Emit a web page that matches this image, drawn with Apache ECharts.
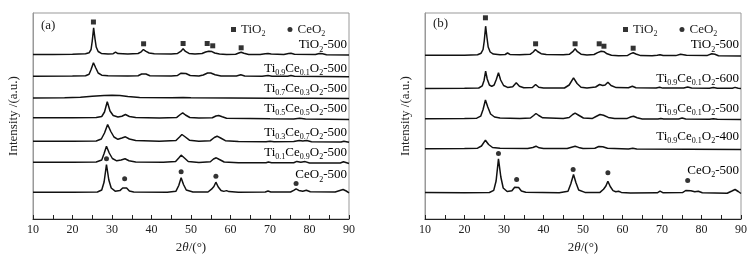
<!DOCTYPE html>
<html><head><meta charset="utf-8">
<script src="https://cdn.jsdelivr.net/npm/echarts@6/dist/echarts.min.js"></script>
<style>html,body{margin:0;padding:0;background:#fff}#c{width:752px;height:259px}</style>
</head><body><div id="c"></div>
<script>
// ---- data (2θ in degrees, intensity in arbitrary offset units) ----
const xTicks = [10, 20, 30, 40, 50, 60, 70, 80, 90];
const namesA = ['TiO2-500', 'Ti0.9Ce0.1O2-500', 'Ti0.7Ce0.3O2-500', 'Ti0.5Ce0.5O2-500', 'Ti0.3Ce0.7O2-500', 'Ti0.1Ce0.9O2-500', 'CeO2-500'];
const namesB = ['TiO2-500', 'Ti0.9Ce0.1O2-600', 'Ti0.9Ce0.1O2-500', 'Ti0.9Ce0.1O2-400', 'CeO2-500'];

const a_TiO2_500 = [[10,164.5],[15,164.5],[20,164.8],[23.3,165.2],[24.2,166.2],[24.7,169.5],[25.0,178],[25.35,191.2],[25.7,180],[26.0,172],[26.5,167.5],[27.3,165.6],[29,165],[30.3,165.3],[30.9,166.8],[31.5,165.4],[34,165],[36.6,165.5],[37.4,167.2],[37.95,169.5],[38.5,167.8],[39.4,166],[40.7,165.2],[45,165],[46.6,165.6],[47.4,167.6],[48.0,170.2],[48.6,167.6],[49.5,165.6],[51,165],[52.8,165.5],[53.7,167],[54.5,167.8],[55.3,167.4],[56.0,166],[57.2,165],[59,164.6],[61.3,164.8],[62.1,166],[62.7,166.8],[63.4,165.8],[64.6,164.6],[67.5,164.6],[68.8,165.3],[69.5,165.6],[70.3,164.9],[73.5,164.6],[74.7,165.5],[75.3,165.8],[76.2,164.8],[81.5,164.5],[82.5,165.5],[83.3,165.3],[84.3,164.3],[90,164]];
const a_Ti09 = [[10,142.8],[20,143],[23.3,143.3],[24.2,144.8],[24.7,149.5],[25.3,156.2],[25.9,151],[26.5,146],[27.4,143.8],[29,143.2],[34,143],[36.6,143.3],[37.5,145],[38,146.2],[38.6,145],[39.6,143.3],[45,143],[46.6,143.6],[47.5,145.8],[48,146.6],[48.7,145.5],[49.8,143.5],[52,143],[53.1,144],[54.2,146],[55,146],[56.1,144.2],[57.6,143],[61.5,143],[62.6,144.2],[63.6,143],[68,142.8],[69.5,143.5],[70.5,142.8],[74.5,142.8],[75.3,143.6],[76.2,142.8],[90,142.3]];
const a_Ti07 = [[10,121],[18,121.2],[22,121.8],[25,122.8],[28,123.6],[30,123.8],[32,123.4],[34,122.4],[37,121.5],[45,121.2],[48,121.5],[50,121.2],[60,121],[70,120.8],[80,120.8],[90,120.6]];
const a_Ti05 = [[10,101.2],[20,101.2],[26,101.4],[27.4,102.5],[28.1,107],[28.8,117.2],[29.5,108],[30.3,103.5],[31.5,102],[32.5,102.8],[33.4,104.5],[34.4,102.5],[36,101.5],[42,101],[46.4,101.6],[47.3,104.5],[47.9,106.2],[48.6,104],[49.7,101.5],[52,101],[55.4,101.3],[56.3,103],[57,103.5],[57.9,102.2],[59,100.8],[65,100.5],[70,100.2],[76,100],[77.5,100.8],[79,100],[90,99.5]];
const a_Ti03 = [[10,77.8],[20,77.8],[26,78],[27.3,80],[28.1,86],[28.9,94.5],[29.7,87.5],[30.5,82],[31.5,79.7],[32.5,81],[33.4,82.2],[34.4,80],[36,78.5],[42,77.8],[46.2,78.5],[47.1,82],[47.7,84.5],[48.4,82.5],[49.6,78.8],[52,77.8],[54.9,78.3],[55.9,81.5],[56.6,82.8],[57.5,81],[58.7,78.3],[62,77.5],[69,77.3],[70,77.8],[71,77.2],[76,77.4],[77.4,78.6],[78.3,78],[79.3,78.5],[80.5,77.2],[88,77],[88.7,77.8],[90,76.8]];
const a_Ti01 = [[10,56.8],[20,56.8],[26,57],[27.4,59],[28.0,65.5],[28.6,72.8],[29.3,66],[30.1,60.5],[31.2,58.2],[32.3,59],[33.3,60.2],[34.3,58.3],[36,57],[43,56.8],[46.1,57.5],[46.9,61],[47.5,63.8],[48.2,61.5],[49.3,57.5],[52,56.6],[54.9,57.3],[55.7,60],[56.4,61.2],[57.2,59.5],[58.4,57],[62,56.3],[69,56.2],[69.6,57],[70.4,56.2],[76,56.2],[76.8,57.6],[77.8,56.8],[78.9,57.4],[80,56],[87.8,56],[88.6,57.2],[90,55.5]];
const a_CeO2_500 = [[10,26.8],[20,26.8],[26.3,27],[27.4,29],[28.0,37],[28.6,54.5],[29.2,39],[29.8,31],[30.8,27.8],[32.0,28.4],[32.7,31],[33.2,32.8],[33.7,31],[34.4,28],[35.5,27],[44,26.8],[46.2,27.8],[46.9,33.5],[47.5,41.2],[48.1,34.5],[48.8,29],[50.5,27],[54.3,27],[55.2,29.8],[55.8,32.5],[56.3,36.8],[56.9,32],[57.6,28.5],[58.3,27.6],[59,28.4],[59.6,27.4],[62,26.8],[68.8,27],[69.5,28],[70.2,27],[75.2,27],[76.0,28.6],[76.6,30.2],[77.3,28.6],[78.3,27.8],[79.2,28.8],[80.2,27.2],[86.5,27],[87.7,28.5],[88.5,29.5],[89.3,28],[90,26.2]];

const b_TiO2_500 = [[10,163.8],[20,163.8],[23.3,164.3],[24.2,165.8],[24.7,169.5],[25.0,178],[25.35,192.8],[25.7,181],[26.0,172],[26.5,167],[27.3,164.9],[29,164.3],[30.3,164.5],[30.9,166],[31.5,164.6],[34,164.2],[36.6,164.7],[37.4,167],[37.95,169.5],[38.5,167.5],[39.4,165.3],[40.7,164.4],[45,164.2],[46.6,164.8],[47.4,167.3],[48,170.2],[48.6,167.3],[49.5,164.8],[51,164],[52.8,164.5],[53.7,166.4],[54.6,167.8],[55.4,167.2],[56.1,165.2],[57.2,163.8],[59,163.3],[61.3,163.6],[62.1,165.4],[62.7,166.2],[63.4,165],[64.6,163.4],[67.5,163.2],[68.8,163.8],[69.5,164.2],[70.3,163.4],[73.5,163.4],[74.7,164.8],[75.2,165.3],[76.2,163.8],[81.5,163.6],[82.6,165.2],[83.4,164.8],[84.3,163.3],[90,163]];
const b_Ti09_600 = [[10,130.5],[20,130.7],[23.6,131],[24.5,133.2],[24.95,138.5],[25.35,147.8],[25.75,140],[26.3,134],[26.9,132.6],[27.5,134],[28.05,139.5],[28.6,146.2],[29.15,139],[29.9,133.5],[30.9,131.6],[32.2,132.2],[33.1,136.2],[33.9,132.8],[35,131.2],[37.2,131.5],[38,134.5],[38.8,131.8],[40,131],[45.3,131],[46.5,134],[47.6,141.2],[48.5,135.5],[49.5,131.8],[51,131],[53.2,132],[54.2,134.5],[55,133.5],[55.6,134],[56.3,136.8],[57.1,133.5],[58.4,131.4],[61.5,131.2],[62.5,132.8],[63.4,131.3],[68.5,131],[69.4,131.8],[70.2,130.9],[75.5,131],[76.5,132],[77.5,131],[82,130.8],[83,131.4],[84,130.7],[87.8,130.8],[88.5,131.6],[89.3,130.7],[90,130.4]];
const b_Ti09_500 = [[10,100.2],[20,100.4],[23.1,100.8],[24.1,102.8],[24.7,109.5],[25.3,119],[25.9,112],[26.6,105],[27.6,102],[29,101],[34,100.6],[36.7,101],[37.5,103.5],[38.1,105.5],[38.8,103.5],[39.8,101.2],[45,100.5],[46.5,101.5],[47.4,104.5],[48,105.8],[48.8,104],[50.1,101],[52.4,100.6],[53.3,102.5],[54.3,104.5],[55.2,103.8],[56.4,101.6],[58,100.4],[61.2,100.6],[62.2,102.2],[62.8,102.8],[63.7,101.3],[65,100],[69,100],[69.7,100.6],[70.4,99.9],[74.2,100],[75.1,101],[76,100],[82,99.8],[83,100.3],[84,99.7],[90,99.5]];
const b_Ti09_400 = [[10,70.2],[20,70.4],[23.3,70.8],[24.3,73],[25.3,78.8],[26.1,74.5],[27.1,71.5],[29,70.8],[36,70.5],[37.3,71.5],[38.1,72.8],[38.9,71.2],[40,70.5],[46,70.5],[47.1,71.8],[48,72.8],[48.9,71.6],[50,70.5],[53,70.8],[54,72.5],[55,72.3],[56.2,70.8],[61.5,70],[62.6,70.8],[63.6,70],[90,69.5]];
const b_CeO2_500 = [[10,26.4],[20,26.3],[26.3,26.5],[27.4,28.6],[28.0,38],[28.6,60.2],[29.2,42],[29.8,31],[30.8,27.5],[32.0,28.2],[32.7,31.8],[33.2,33.5],[33.7,31.5],[34.4,28],[35.5,26.7],[44,26.3],[46.2,27.8],[46.9,35],[47.6,44.5],[48.2,36.5],[48.9,29],[50.5,26.6],[54.3,26.6],[55.2,29.8],[55.8,33],[56.3,37.8],[56.9,32.5],[57.6,28.4],[58.3,27.3],[59,27.8],[59.7,26.6],[62,26],[68.8,26.2],[69.5,27.8],[70.2,26.3],[75.2,26.4],[76,28.5],[76.5,30.2],[77.3,28.2],[78.3,27.2],[79.2,27.8],[80.2,26.2],[86.5,25.8],[87.7,28],[88.5,29.5],[89.3,27.5],[90,25.5]];

// phase markers
const tio2MarkA = [[25.3,197],[38,175.2],[48,175.5],[54.1,175.5],[55.5,173.2],[62.7,171.2]];
const ceo2MarkA = [[28.6,60.2],[33.2,40.2],[47.5,47.2],[56.3,42.8],[76.6,35.5]];
const tio2MarkB = [[25.3,201.2],[38,175.2],[48,175.2],[54.1,175.2],[55.3,172.8],[62.7,170.8]];
const ceo2MarkB = [[28.6,65.5],[33.2,39.5],[47.5,49.5],[56.3,46.2],[76.5,38.5]];

const seriesA = [a_TiO2_500, a_Ti09, a_Ti07, a_Ti05, a_Ti03, a_Ti01, a_CeO2_500];
const seriesB = [b_TiO2_500, b_Ti09_600, b_Ti09_500, b_Ti09_400, b_CeO2_500];

// ---- layout / style ----
const FF = 'Liberation Serif';
const TXT = '#222';
const rich = {
  n: {fontFamily: FF, fontSize: 13, lineHeight: 17, color: TXT},
  s: {fontFamily: FF, fontSize: 8, lineHeight: 8, verticalAlign: 'bottom', color: TXT},
  i: {fontFamily: FF, fontSize: 13, lineHeight: 17, fontStyle: 'italic', color: TXT}
};
function toRich(str) {
  return '{n|' + str.replace(/([A-Za-z])(\d+(?:\.\d+)?)/g, '$1}{s|$2}{n|') + '}';
}
const labelYA = [45, 68.5, 88.5, 108.5, 132.5, 152.5, 175];
const labelYB = [45, 78.5, 108.5, 136.5, 170.5];

const grids = [
  {left: 33, right: 403, top: 13, bottom: 40, show: true, borderColor: '#999', borderWidth: 1},
  {left: 425, right: 11, top: 13, bottom: 40, show: true, borderColor: '#999', borderWidth: 1}
];
function xAx(i) {
  return {
    gridIndex: i, type: 'value', min: 10, max: 90, interval: 5,
    axisLine: {lineStyle: {color: '#222', width: 1}},
    axisTick: {inside: true, length: 4, lineStyle: {color: '#222'}},
    axisLabel: {margin: 5, fontFamily: FF, fontSize: 12, color: TXT,
      formatter: v => xTicks.indexOf(v) >= 0 ? String(v) : ''},
    splitLine: {show: false},
    name: '{n|2}{i|θ}{n|/(°)}', nameLocation: 'middle', nameGap: 20,
    nameTextStyle: {rich: rich}
  };
}
function yAx(i) {
  return {
    gridIndex: i, type: 'value', min: 0, max: 206,
    axisLine: {show: true, lineStyle: {color: '#999'}},
    axisTick: {show: false}, axisLabel: {show: false}, splitLine: {show: false},
    name: 'Intensity /(a.u.)', nameLocation: 'middle', nameGap: 13,
    nameTextStyle: {fontFamily: FF, fontSize: 13, color: TXT}
  };
}
const series = [];
seriesA.forEach((d, k) => series.push({type: 'line', name: 'a' + k, xAxisIndex: 0, yAxisIndex: 0, data: d,
  symbol: 'none', lineStyle: {color: '#111', width: 1.5}, silent: true}));
seriesB.forEach((d, k) => series.push({type: 'line', name: 'b' + k, xAxisIndex: 1, yAxisIndex: 1, data: d,
  symbol: 'none', lineStyle: {color: '#111', width: 1.5}, silent: true}));
[[tio2MarkA, 0, 'rect', 'TiO2'], [ceo2MarkA, 0, 'circle', 'CeO2'], [tio2MarkB, 1, 'rect', 'TiO2'], [ceo2MarkB, 1, 'circle', 'CeO2']]
  .forEach(([d, g, sym, nm]) => series.push({type: 'scatter', name: nm, xAxisIndex: g, yAxisIndex: g, data: d,
    symbol: sym, symbolSize: 5, itemStyle: {color: '#000'}, silent: true}));

function legend(left) {
  return {left: left, top: 18, orient: 'horizontal', itemWidth: 5, itemHeight: 5, itemGap: 22,
    data: [{name: 'TiO2', icon: 'rect'}, {name: 'CeO2', icon: 'circle'}],
    formatter: n => toRich(n), textStyle: {rich: rich}, selectedMode: false};
}
const graphics = [];
function addLabels(names, ys, xr) {
  names.forEach((nm, k) => graphics.push({type: 'text', x: xr, y: ys[k],
    style: {text: toRich(nm), rich: rich, align: 'right', verticalAlign: 'middle'}}));
}
addLabels(namesA, labelYA, 347);
addLabels(namesB, labelYB, 739);
graphics.push({type: 'text', x: 41, y: 26, style: {text: '(a)', fontFamily: FF, fontSize: 13, fill: TXT, verticalAlign: 'middle'}});
graphics.push({type: 'text', x: 433, y: 24, style: {text: '(b)', fontFamily: FF, fontSize: 13, fill: TXT, verticalAlign: 'middle'}});

const chart = echarts.init(document.getElementById('c'));
chart.setOption({
  animation: false,
  backgroundColor: '#fff',
  grid: grids,
  xAxis: [xAx(0), xAx(1)],
  yAxis: [yAx(0), yAx(1)],
  legend: [legend(226), legend(618)],
  series: series,
  graphic: graphics
});
</script></body></html>
